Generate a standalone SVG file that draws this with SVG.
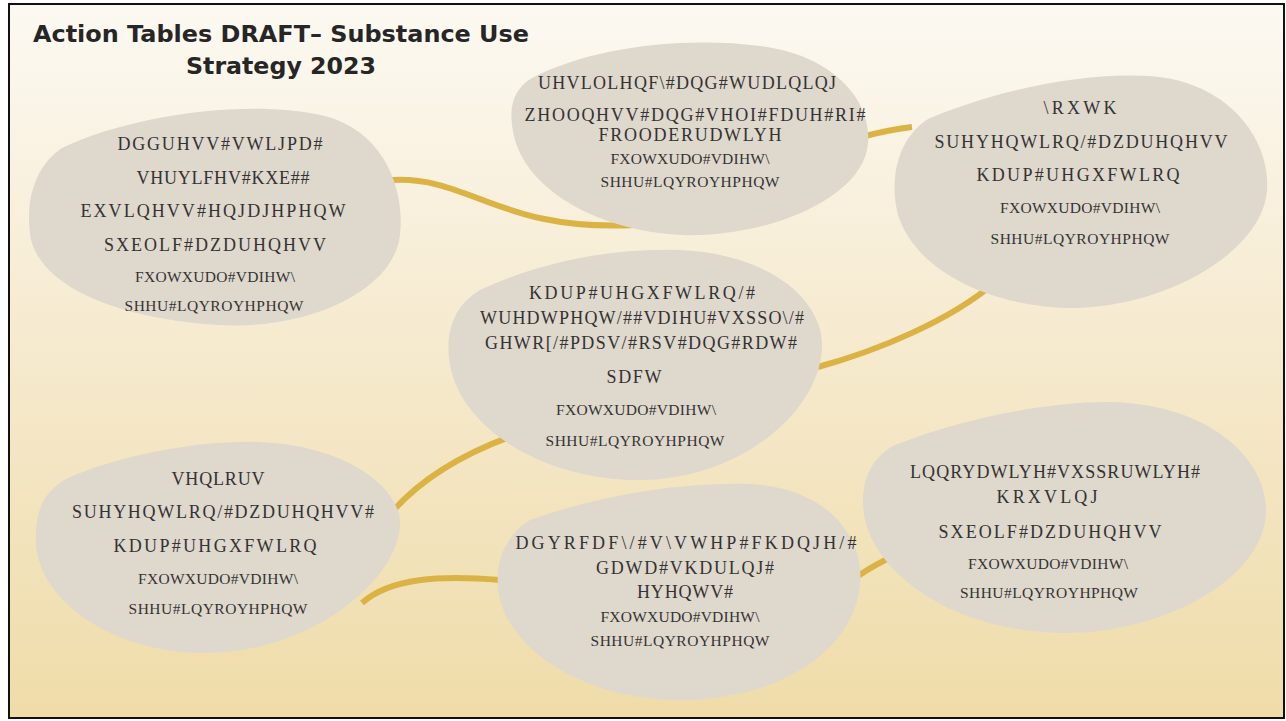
<svg xmlns="http://www.w3.org/2000/svg" width="1286" height="721" viewBox="0 0 1286 721">
<defs>
<linearGradient id="bg" x1="0" y1="0" x2="0" y2="1">
<stop offset="0" stop-color="#fcf9f2"/>
<stop offset="0.55" stop-color="#f5e8c9"/>
<stop offset="1" stop-color="#efdca9"/>
</linearGradient>
<style>
.blob{fill:#dfd8cc;}
.con{fill:none;stroke:#dbb345;stroke-width:6;stroke-linecap:butt;}
.t{font-family:"Liberation Serif","DejaVu Serif",serif;fill:#333;text-anchor:middle;}
.l{font-size:18px;}
.s{font-size:15.5px;}
.title{font-family:"DejaVu Sans","Liberation Sans",sans-serif;font-weight:bold;font-size:23px;fill:#262626;}
</style>
</defs>
<rect x="0" y="0" width="1286" height="721" fill="#ffffff"/>
<rect x="9" y="4" width="1275" height="714" fill="url(#bg)" stroke="#111" stroke-width="2"/>
<g id="title">
<text class="title" x="33" y="42" textLength="496" lengthAdjust="spacingAndGlyphs">Action Tables DRAFT– Substance Use</text>
<text class="title" x="186" y="74" textLength="190" lengthAdjust="spacingAndGlyphs">Strategy 2023</text>
</g>
<g id="connectors">
<path class="con" d="M392,180 C470,176 500,232 635,225"/>
<path class="con" d="M862,137 C880,132 895,129 912,127"/>
<path class="con" d="M818,367 C880,350 950,320 993,284"/>
<path class="con" d="M512,436 C460,455 420,480 392,512"/>
<path class="con" d="M362,603 C390,578 440,575 500,580"/>
<path class="con" d="M858,576 C870,568 880,562 892,557"/>
</g>
<g id="node-address-stigma">
<path class="blob" d="M62,148 C130,115 250,98 325,116 C385,132 405,190 400,235 C394,290 310,330 220,325 C130,320 45,292 31,240 C24,200 36,165 62,148 Z"/>
<text class="t l" x="220" y="150" textLength="205" lengthAdjust="spacing">DGGUHVV#VWLJPD#</text>
<text class="t l" x="223" y="184" textLength="173" lengthAdjust="spacing">VHUYLFHV#KXE##</text>
<text class="t l" x="213" y="217" textLength="265" lengthAdjust="spacing">EXVLQHVV#HQJDJHPHQW</text>
<text class="t l" x="215" y="251" textLength="222" lengthAdjust="spacing">SXEOLF#DZDUHQHVV</text>
<text class="t s" x="215" y="282" textLength="160" lengthAdjust="spacing">FXOWXUDO#VDIHW\</text>
<text class="t s" x="214" y="311" textLength="179" lengthAdjust="spacing">SHHU#LQYROYHPHQW</text>
</g>
<g id="node-resiliency">
<path class="blob" d="M532,78 C590,48 680,36 760,46 C840,56 876,108 867,150 C856,202 762,238 682,235 C600,231 530,192 515,140 C507,110 512,90 532,78 Z"/>
<text class="t l" x="687" y="89" textLength="298" lengthAdjust="spacing">UHVLOLHQF\#DQG#WUDLQLQJ</text>
<text class="t l" x="695" y="121" textLength="341" lengthAdjust="spacing">ZHOOQHVV#DQG#VHOI#FDUH#RI#</text>
<text class="t l" x="690" y="141" textLength="183" lengthAdjust="spacing">FROODERUDWLYH</text>
<text class="t s" x="690" y="164" textLength="159" lengthAdjust="spacing">FXOWXUDO#VDIHW\</text>
<text class="t s" x="690" y="187" textLength="179" lengthAdjust="spacing">SHHU#LQYROYHPHQW</text>
</g>
<g id="node-youth">
<path class="blob" d="M930,118 C1000,90 1080,72 1150,76 C1230,82 1270,140 1267,190 C1263,250 1170,306 1075,308 C990,308 915,270 898,215 C888,175 900,135 930,118 Z"/>
<text class="t l" x="1080" y="114" textLength="73" lengthAdjust="spacing">\RXWK</text>
<text class="t l" x="1081" y="148" textLength="293" lengthAdjust="spacing">SUHYHQWLRQ/#DZDUHQHVV</text>
<text class="t l" x="1078" y="181" textLength="203" lengthAdjust="spacing">KDUP#UHGXFWLRQ</text>
<text class="t s" x="1080" y="213" textLength="160" lengthAdjust="spacing">FXOWXUDO#VDIHW\</text>
<text class="t s" x="1080" y="244" textLength="179" lengthAdjust="spacing">SHHU#LQYROYHPHQW</text>
</g>
<g id="node-harm-reduction">
<path class="blob" d="M480,290 C540,262 610,248 680,250 C770,254 822,300 822,345 C822,410 740,480 640,480 C545,480 462,430 450,365 C444,330 455,305 480,290 Z"/>
<text class="t l" x="642" y="299" textLength="226" lengthAdjust="spacing">KDUP#UHGXFWLRQ/#</text>
<text class="t l" x="642" y="324" textLength="324" lengthAdjust="spacing">WUHDWPHQW/##VDIHU#VXSSO\/#</text>
<text class="t l" x="641" y="349" textLength="312" lengthAdjust="spacing">GHWR[/#PDSV/#RSV#DQG#RDW#</text>
<text class="t l" x="634" y="383" textLength="55" lengthAdjust="spacing">SDFW</text>
<text class="t s" x="636" y="415" textLength="160" lengthAdjust="spacing">FXOWXUDO#VDIHW\</text>
<text class="t s" x="635" y="446" textLength="179" lengthAdjust="spacing">SHHU#LQYROYHPHQW</text>
</g>
<g id="node-seniors">
<path class="blob" d="M68,478 C120,455 200,440 260,442 C350,446 402,490 400,525 C398,580 310,655 200,653 C110,651 40,600 36,545 C34,510 45,490 68,478 Z"/>
<text class="t l" x="218" y="485" textLength="93" lengthAdjust="spacing">VHQLRUV</text>
<text class="t l" x="223" y="518" textLength="302" lengthAdjust="spacing">SUHYHQWLRQ/#DZDUHQHVV#</text>
<text class="t l" x="215" y="552" textLength="203" lengthAdjust="spacing">KDUP#UHGXFWLRQ</text>
<text class="t s" x="218" y="584" textLength="160" lengthAdjust="spacing">FXOWXUDO#VDIHW\</text>
<text class="t s" x="218" y="614" textLength="179" lengthAdjust="spacing">SHHU#LQYROYHPHQW</text>
</g>
<g id="node-advocacy">
<path class="blob" d="M530,520 C600,495 680,482 750,484 C830,488 865,540 860,585 C854,650 780,700 680,700 C590,700 515,655 500,600 C492,565 505,535 530,520 Z"/>
<text class="t l" x="686" y="549" textLength="341" lengthAdjust="spacing">DGYRFDF\/#V\VWHP#FKDQJH/#</text>
<text class="t l" x="685" y="574" textLength="178" lengthAdjust="spacing">GDWD#VKDULQJ#</text>
<text class="t l" x="685" y="598" textLength="96" lengthAdjust="spacing">HYHQWV#</text>
<text class="t s" x="680" y="622" textLength="159" lengthAdjust="spacing">FXOWXUDO#VDIHW\</text>
<text class="t s" x="680" y="646" textLength="179" lengthAdjust="spacing">SHHU#LQYROYHPHQW</text>
</g>
<g id="node-housing">
<path class="blob" d="M895,445 C960,420 1040,402 1110,402 C1210,404 1268,460 1266,512 C1264,580 1160,635 1060,633 C960,631 880,580 865,520 C858,485 870,458 895,445 Z"/>
<text class="t l" x="1055" y="478" textLength="290" lengthAdjust="spacing">LQQRYDWLYH#VXSSRUWLYH#</text>
<text class="t l" x="1047" y="503" textLength="101" lengthAdjust="spacing">KRXVLQJ</text>
<text class="t l" x="1050" y="538" textLength="223" lengthAdjust="spacing">SXEOLF#DZDUHQHVV</text>
<text class="t s" x="1048" y="569" textLength="160" lengthAdjust="spacing">FXOWXUDO#VDIHW\</text>
<text class="t s" x="1049" y="598" textLength="178" lengthAdjust="spacing">SHHU#LQYROYHPHQW</text>
</g>
</svg>
